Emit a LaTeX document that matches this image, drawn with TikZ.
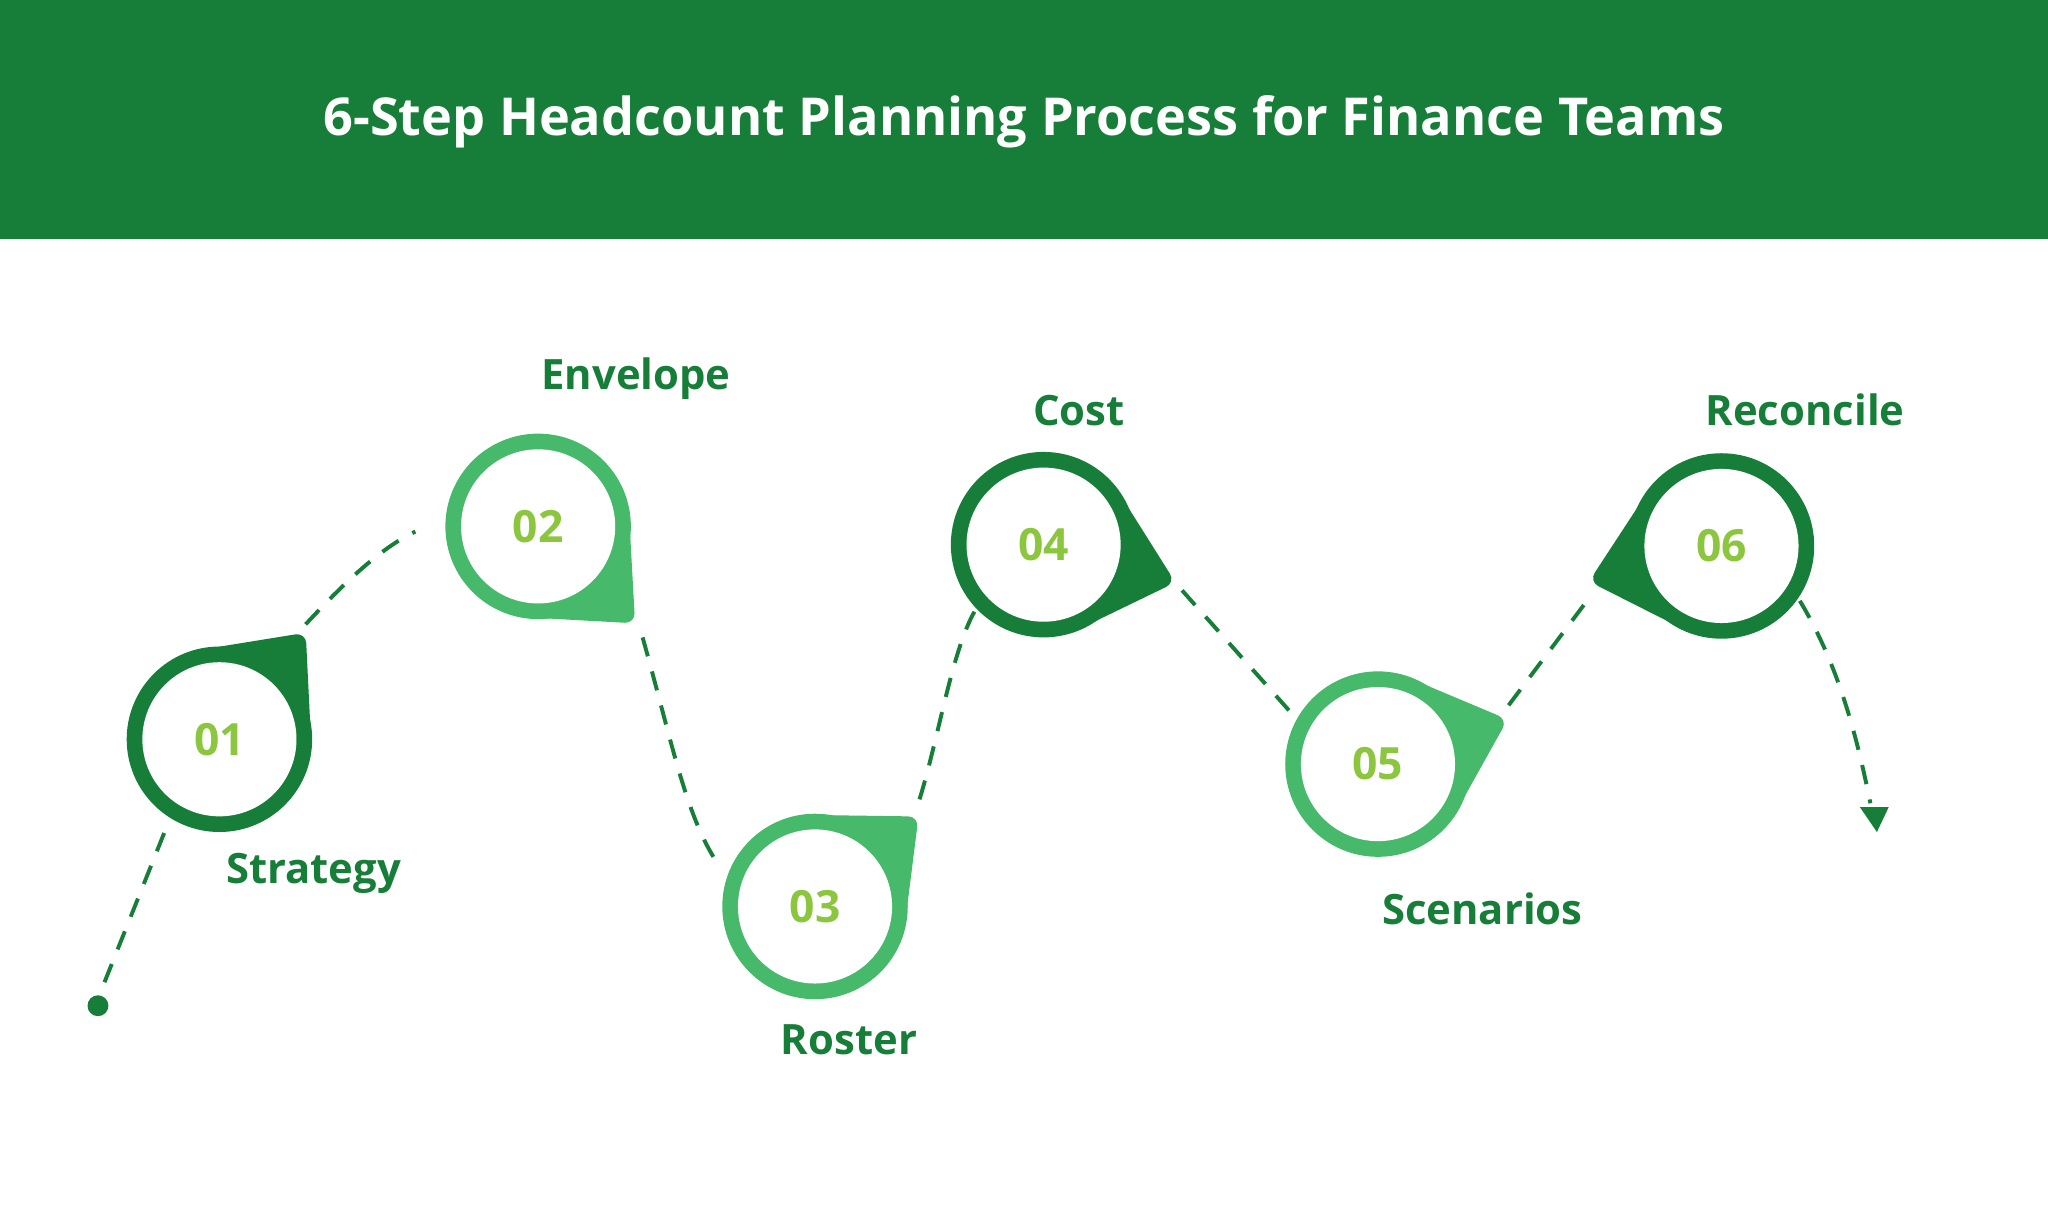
\documentclass[tikz,border=0pt]{standalone}
\usepackage{fontspec}
\setmainfont{Open Sans}
\usetikzlibrary{calc}
\definecolor{dk}{HTML}{167E38}
\definecolor{lt}{HTML}{47B96A}
\definecolor{num}{HTML}{8CC63F}
\tikzset{lbl/.style={text=dk,font=\fontsize{32}{36}\selectfont\bfseries},
numtxt/.style={text=num,font=\fontsize{34}{38}\selectfont\bfseries},
dline/.style={dk,line width=3pt,dash pattern=on 15pt off 12pt}}
\newcommand\mypin[5]{% name, x, y, angle(deg, math), color, number
\coordinate (#1) at (#2,#3);
\fill[#5,rounded corners=8pt] ($(#1)+(-#4+48:70)$) -- ($(#1)+(-#4:105)$) -- ($(#1)+(-#4-48:70)$) -- cycle;
\fill[#5] (#1) circle (71);
\fill[white] (#1) circle (59);
}
\begin{document}
\begin{tikzpicture}[x=1pt,y=-1pt]
\useasboundingbox (0,0) rectangle (1568,924);
\fill[dk] (0,0) rectangle (1568,183);
\node[text=white,font=\fontsize{40}{46}\selectfont\bfseries] (title) at (784,93) {6-Step Headcount Planning Process for Finance Teams};
% dashed connectors
\coordinate (s) at (75,770);
\fill[dk] (s) circle (8);
\coordinate (a1) at (80,752); \coordinate (a2) at (128,632);
\draw[dline] (a1) -- (a2);
\coordinate (b1) at (234,478); \coordinate (b2) at (318,407);
\draw[dline] (b1) .. controls (260,450) and (290,420) .. (b2);
\coordinate (c1) at (492,488); \coordinate (c2) at (550,662);
\draw[dline] (c1) .. controls (515,570) and (525,625) .. (c2);
\coordinate (d1) at (704,612); \coordinate (d2) at (750,462);
\draw[dline] (d1) .. controls (720,560) and (730,490) .. (d2);
\coordinate (e1) at (905,452); \coordinate (e2) at (995,553);
\draw[dline] (e1) -- (e2);
\coordinate (f1) at (1155,540); \coordinate (f2) at (1215,460);
\draw[dline] (f1) -- (f2);
\coordinate (g1) at (1378,460); \coordinate (g2) at (1432,615);
\draw[dline] (g1) .. controls (1405,505) and (1420,555) .. (g2);
\fill[dk] (1424,618) -- (1446,618) -- (1437,637) -- cycle;
% pins
\mypin{p1}{168}{566}{51}{dk}
\mypin{p2}{412}{403}{-45}{lt}
\mypin{p3}{624}{694}{41}{lt}
\mypin{p4}{799}{417}{-16}{dk}
\mypin{p5}{1055}{585}{19}{lt}
\mypin{p6}{1318}{418}{195}{dk}
\node[numtxt] (n1) at (p1) {01};
\node[numtxt] (n2) at (p2) {02};
\node[numtxt] (n3) at (p3) {03};
\node[numtxt] (n4) at (p4) {04};
\node[numtxt] (n5) at (p5) {05};
\node[numtxt] (n6) at (p6) {06};
\node[lbl] (l1) at (240,669) {Strategy};
\node[lbl] (l2) at (487,290) {Envelope};
\node[lbl] (l3) at (650,796) {Roster};
\node[lbl] (l4) at (826,314) {Cost};
\node[lbl] (l5) at (1135,696) {Scenarios};
\node[lbl] (l6) at (1382,314) {Reconcile};
\end{tikzpicture}
\end{document}
